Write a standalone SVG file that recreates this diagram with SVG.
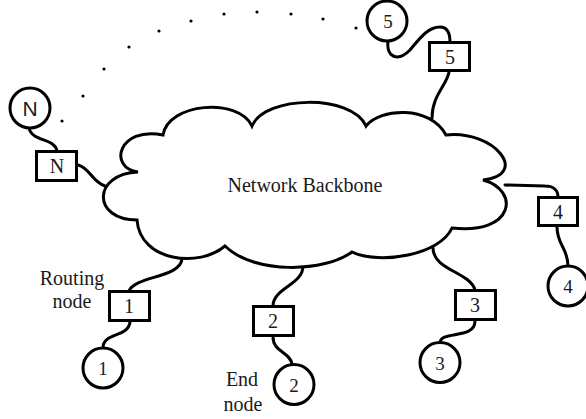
<svg xmlns="http://www.w3.org/2000/svg" width="586" height="419" viewBox="0 0 586 419">
<style>
.ln{fill:none;stroke:#000;stroke-width:3;stroke-linecap:round;stroke-linejoin:miter}
.bx{fill:#fff;stroke:#000;stroke-width:3}
.cr{fill:#fff;stroke:#000;stroke-width:3}
.t{font-family:"Liberation Serif","Times New Roman",serif;font-size:20px;fill:#1a1a1a;text-anchor:middle}
.tc{font-family:"Liberation Serif","Times New Roman",serif;font-size:19px;fill:#1a1a1a;text-anchor:middle}
.ts{font-family:"Liberation Sans",Arial,sans-serif;font-size:21px;fill:#1a1a1a;text-anchor:middle}
.dot{fill:#000}
</style>
<rect width="586" height="419" fill="#fff"/>
<g id="dots">
<circle class="dot" cx="62" cy="121" r="1.6"/>
<circle class="dot" cx="83" cy="96" r="1.6"/>
<circle class="dot" cx="104" cy="69" r="1.6"/>
<circle class="dot" cx="129" cy="47" r="1.6"/>
<circle class="dot" cx="159" cy="31" r="1.6"/>
<circle class="dot" cx="191" cy="21" r="1.6"/>
<circle class="dot" cx="224" cy="14" r="1.6"/>
<circle class="dot" cx="257" cy="12" r="1.6"/>
<circle class="dot" cx="291" cy="14" r="1.6"/>
<circle class="dot" cx="323" cy="19" r="1.6"/>
<circle class="dot" cx="356" cy="28" r="1.6"/>
</g>
<g id="connectors">
<path class="ln" d="M29,128 C32,142 55,138 57,151"/>
<path class="ln" d="M78,165 C90,168 92,182 105,186"/>
<path class="ln" d="M388,40 C386,58 398,62 410,50 C420,38 428,27 440,27 C448,27 450,34 450,42"/>
<path class="ln" d="M449,72 C447,85 432,95 432,118"/>
<path class="ln" d="M505,185 L545,186 C553,186 558,190 558,197"/>
<path class="ln" d="M557,227 C557,245 568,248 568,266"/>
<path class="ln" d="M433,248 C433,270 470,272 475,290"/>
<path class="ln" d="M475,321 C475,340 440,330 440,343"/>
<path class="ln" d="M303,266 C303,285 273,288 273,306"/>
<path class="ln" d="M273,337 C273,352 290,352 292,364"/>
<path class="ln" d="M182,259 C180,278 135,276 129,291"/>
<path class="ln" d="M130,322 C128,338 103,332 103,348"/>
</g>
<g id="backbone">
<path class="ln" fill="#fff" d="M163,135 C168,103 238,97 252,126 C265,95 352,94 366,126 C380,108 430,105 446,135 C495,130 530,175 483,180 C520,190 515,235 452,228 C440,255 380,265 352,252 C325,272 255,275 225,246 C200,268 140,262 137,220 C92,220 92,174 138,172 C108,168 118,126 163,135 Z" style="fill:#fff"/>
<text class="t" x="305" y="192">Network Backbone</text>
</g>
<g id="nodeN">
<circle class="cr" cx="30" cy="108" r="20"/>
<text class="ts" x="30" y="115.5">N</text>
<rect class="bx" x="36.5" y="151.5" width="40" height="29"/>
<text class="t" x="57" y="173">N</text>
</g>
<g id="node5">
<circle class="cr" cx="387" cy="21" r="20"/>
<text class="tc" x="388" y="28">5</text>
<rect class="bx" x="429.5" y="42.5" width="40" height="28"/>
<text class="t" x="450" y="64">5</text>
</g>
<g id="node4">
<rect class="bx" x="538.5" y="197.5" width="39" height="28"/>
<text class="t" x="558" y="219">4</text>
<circle class="cr" cx="568" cy="286" r="20"/>
<text class="tc" x="568" y="293">4</text>
</g>
<g id="node3">
<rect class="bx" x="455.5" y="290.5" width="40" height="29"/>
<text class="t" x="475" y="312">3</text>
<circle class="cr" cx="440" cy="362.5" r="20"/>
<text class="tc" x="440" y="369.5">3</text>
</g>
<g id="node2">
<rect class="bx" x="253.5" y="306.5" width="40" height="29"/>
<text class="t" x="273" y="328">2</text>
<circle class="cr" cx="294" cy="384.5" r="20"/>
<text class="tc" x="294" y="391.5">2</text>
<text class="t" x="242" y="386">End</text>
<text class="t" x="243" y="411">node</text>
</g>
<g id="node1">
<rect class="bx" x="109.5" y="291.5" width="40" height="29"/>
<text class="t" x="129" y="313">1</text>
<circle class="cr" cx="103" cy="368" r="20"/>
<text class="tc" x="103" y="375">1</text>
<text class="t" x="72" y="285">Routing</text>
<text class="t" x="72" y="308">node</text>
</g>
</svg>
